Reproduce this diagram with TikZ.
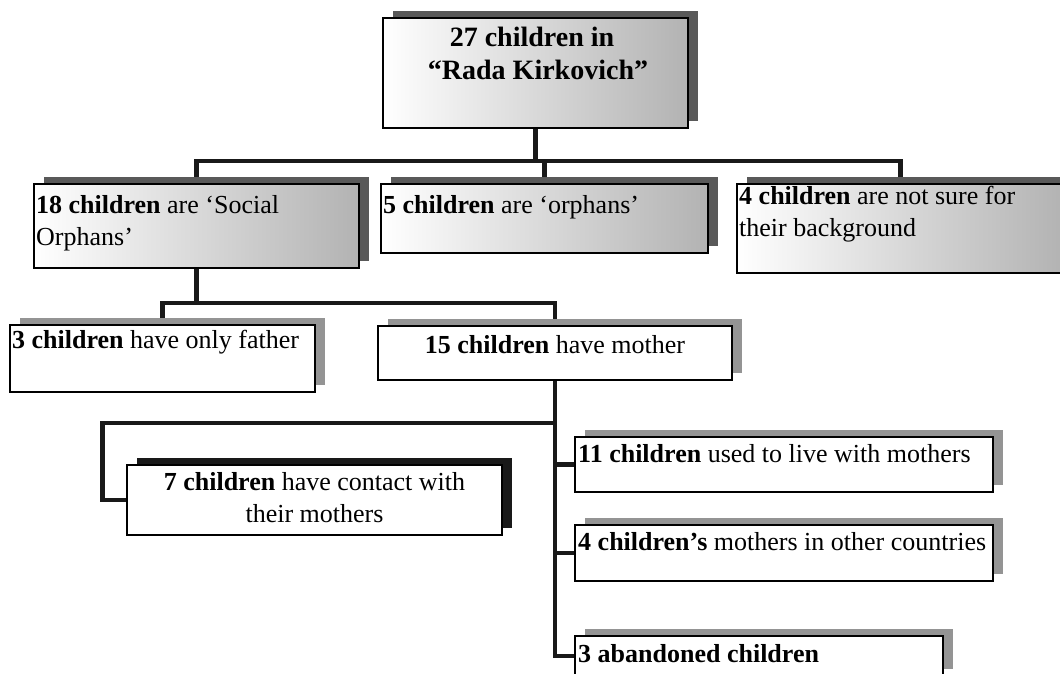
\documentclass[tikz,border=0pt]{standalone}
\usepackage{fontspec}
\setmainfont{Liberation Serif}
\usetikzlibrary{fit}
\pgfdeclarelayer{paper}
\pgfdeclarelayer{connl}
\pgfdeclarelayer{shadl}
\pgfsetlayers{paper,connl,shadl,main}
\tikzset{
  boxline/.style={draw=black, line width=1.5pt, inner sep=0pt},
  graded/.style={left color=white, right color=black!30},
  plain/.style={fill=white},
  shad/.style={fill=black!65},
  lshad/.style={fill=black!42},
  darkshad/.style={fill=black!90},
  conn/.style={draw=black!90, line width=4.5pt},
  txt/.style={font=\fontsize{26}{31}\selectfont, inner sep=0pt, anchor=base west},
  ctxt/.style={txt, anchor=base},
  ttl/.style={font=\fontsize{28}{33}\selectfont\bfseries, inner sep=0pt, anchor=base},
}
\newcommand{\mkbox}[7]{%
  \begin{pgfonlayer}{shadl}
    \fill[#7] (#2+10,#3-7) rectangle (#4+10,#5-7);
  \end{pgfonlayer}
  \node[boxline,#6,fit={(#2,#3) (#4,#5)}] (#1) {};
}
\begin{document}
\begin{tikzpicture}[x=1pt,y=-1pt]
\useasboundingbox (0,0) rectangle (1060,674);
\begin{pgfonlayer}{paper}
  \fill[white] (0,0) rectangle (1060,674);
\end{pgfonlayer}
\clip (0,0) rectangle (1060,674);

\mkbox{top}{383}{18}{688}{128}{graded}{shad}
\mkbox{b18}{34}{184}{359}{268}{graded}{shad}
\mkbox{b5}{381}{184}{708}{253}{graded}{shad}
\mkbox{b4}{737}{184}{1064}{273}{graded}{shad}
\mkbox{b3f}{10}{325}{315}{392}{plain}{lshad}
\mkbox{b15}{378}{326}{732}{380}{plain}{lshad}
\mkbox{b7}{127}{465}{502}{535}{plain}{darkshad}
\mkbox{b11}{575}{437}{993}{492}{plain}{lshad}
\mkbox{b4s}{575}{525}{993}{581}{plain}{lshad}
\mkbox{b3a}{575}{636}{943}{676}{plain}{lshad}

\begin{pgfonlayer}{connl}
  \draw[conn] (top.south) -- ++(0,32) -| (b18.north);
  \draw[conn] (top.south) -- ++(0,32) -| (b5.north);
  \draw[conn] (top.south) -- ++(0,32) -| (b4.north);
  \draw[conn] (b18.south) -- ++(0,34) -| (b3f.north);
  \draw[conn] (b18.south) -- ++(0,34) -| (b15.north);
  \draw[conn] (b15.south) |- (b11.west);
  \draw[conn] (b15.south) |- (b4s.west);
  \draw[conn] (b15.south) |- (b3a.west);
  \draw[conn] (b15.south) -- ++(0,42) -| ([xshift=-24pt]b7.west) -- (b7.west);
\end{pgfonlayer}

\node[ttl] (t1) at (532,47) {27 children in};
\node[ttl] (t2) at (538,80) {“Rada Kirkovich”};
\node[txt] (t18a) at (36,213) {\textbf{18 children} are ‘Social};
\node[txt] (t18b) at (36,245) {Orphans’};
\node[txt] (t5) at (383,213) {\textbf{5 children} are ‘orphans’};
\node[txt] (t4a) at (739,204) {\textbf{4 children} are not sure for};
\node[txt] (t4b) at (739,236) {their background};
\node[txt] (t3f) at (12,348) {\textbf{3 children} have only father};
\node[ctxt] (t15) at (555,353) {\textbf{15 children} have mother};
\node[ctxt] (t7a) at (314.5,490) {\textbf{7 children} have contact with};
\node[ctxt] (t7b) at (314.5,522) {their mothers};
\node[txt] (t11) at (578,462) {\textbf{11 children} used to live with mothers};
\node[txt] (t4s) at (578,550) {\textbf{4 children’s} mothers in other countries};
\node[txt] (t3a) at (578,662) {\textbf{3 abandoned children}};
\end{tikzpicture}
\end{document}
